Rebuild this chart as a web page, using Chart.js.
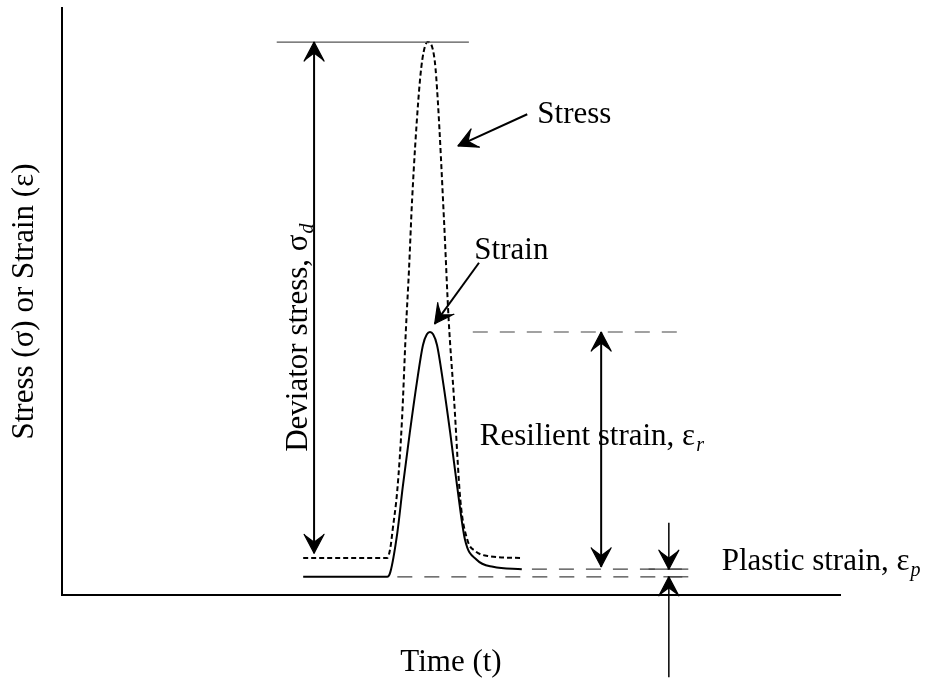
<!DOCTYPE html>
<html>
<head>
<meta charset="utf-8">
<script src="https://cdn.jsdelivr.net/npm/chart.js@4.4.1/dist/chart.umd.min.js"></script>
<style>
  body { margin: 0; background: #fff; }
</style>
</head>
<body>
<canvas id="pulseChart" width="930" height="682"></canvas>
<script>
// both axes are schematic, 0..100 arbitrary units
const stressTime  = [31.0, 41.8, 42.2, 42.5, 43.1, 43.7, 44.2, 44.6, 45.0, 45.8, 46.3, 47.0, 47.9, 48.3, 49.1, 49.7, 50.4, 51.2, 52.1, 53.1, 55.0, 58.9];
const stressValue = [6.3, 6.3, 8.0, 11.1, 17.9, 29.8, 45.1, 55.4, 67.3, 84.3, 91.1, 94.2, 91.1, 84.3, 63.9, 46.9, 33.2, 16.2, 9.4, 7.5, 6.6, 6.3];

const strainTime  = [31.0, 41.8, 42.2, 43.1, 43.8, 44.7, 45.6, 46.4, 46.9, 47.3, 47.7, 48.2, 49.0, 49.9, 50.8, 51.8, 53.3, 55.4, 59.1];
const strainValue = [3.1, 3.1, 3.9, 10.6, 18.4, 27.6, 36.1, 42.6, 44.4, 44.8, 44.4, 42.6, 36.1, 27.6, 18.4, 9.4, 6.0, 4.8, 4.4];

// reference levels taken from the curves
const stressPeak = Math.max(...stressValue);
const stressBase = stressValue[0];
const strainPeak = Math.max(...strainValue);
const strainBase = strainValue[0];
const strainTail = strainValue[strainValue.length - 1];

const serif = '"Liberation Serif", "Times New Roman", serif';

function arrowHead(ctx, tx, ty, fx, fy) {
    const a = Math.atan2(ty - fy, tx - fx);
    ctx.save();
    ctx.translate(tx, ty);
    ctx.rotate(a);
    ctx.beginPath();
    ctx.moveTo(0, 0);
    ctx.lineTo(-19, -10);
    ctx.lineTo(-17, -8);
    ctx.lineTo(-11, 0);
    ctx.lineTo(-17, 8);
    ctx.lineTo(-19, 10);
    ctx.closePath();
    ctx.fill();
    ctx.lineWidth = 1.2;
    ctx.lineJoin = 'round';
    ctx.stroke();
    ctx.restore();
}

function arrow(ctx, fx, fy, tx, ty, width, bothEnds) {
    ctx.lineWidth = width;
    ctx.beginPath();
    ctx.moveTo(fx, fy);
    ctx.lineTo(tx, ty);
    ctx.stroke();
    arrowHead(ctx, tx, ty, fx, fy);
    if (bothEnds) arrowHead(ctx, fx, fy, tx, ty);
}

function hline(ctx, x1, x2, y, dash, color) {
    ctx.save();
    ctx.strokeStyle = color;
    ctx.lineWidth = 1.2;
    ctx.setLineDash(dash);
    ctx.beginPath();
    ctx.moveTo(x1, y);
    ctx.lineTo(x2, y);
    ctx.stroke();
    ctx.restore();
}

function label(ctx, text, sub, x, y) {
    ctx.font = '31px ' + serif;
    ctx.fillText(text, x, y);
    if (sub) {
        const w = ctx.measureText(text).width;
        ctx.font = 'italic 20px ' + serif;
        ctx.fillText(sub, x + w + 1, y + 6);
    }
}

// arrows, guide lines and labels
const annotate = {
    id: 'annotate',
    afterDraw(chart) {
        const { ctx, scales: { x, y } } = chart;
        const px = v => x.getPixelForValue(v);
        const py = v => y.getPixelForValue(v);
        ctx.save();
        ctx.fillStyle = '#000';
        ctx.strokeStyle = '#000';
        ctx.textBaseline = 'alphabetic';
        ctx.textAlign = 'left';

        // peak line and deviator stress arrow
        hline(ctx, px(27.6), px(52.3), py(stressPeak), [], '#555');
        arrow(ctx, px(32.4), py(stressPeak), px(32.4), py(stressBase + 0.8), 2, true);

        // resilient / plastic guide lines
        hline(ctx, px(52.8), px(80.5), py(strainPeak), [15, 12], '#444');
        hline(ctx, px(60.4), px(80.5), py(strainTail), [15, 12], '#444');
        hline(ctx, px(43.1), px(80.5), py(strainBase), [15, 12], '#444');
        hline(ctx, px(75.4), px(80.5), py(strainTail), [], '#444');
        hline(ctx, px(77.3), px(80.5), py(strainBase), [], '#444');

        arrow(ctx, px(69.3), py(strainPeak), px(69.3), py(strainTail + 0.4), 2, true);
        arrow(ctx, px(78.0), py(12.3), px(78.0), py(strainTail), 1.5, false);
        arrow(ctx, px(78.0), py(-14.0), px(78.0), py(strainBase), 1.5, false);

        // pointers to the curves
        arrow(ctx, px(59.8), py(81.9), px(50.9), py(76.5), 2, false);
        arrow(ctx, px(53.6), py(56.6), px(47.9), py(46.2), 2, false);

        label(ctx, 'Stress', null, px(61.1), py(80.4));
        label(ctx, 'Strain', null, px(53.0), py(57.2));
        label(ctx, 'Resilient strain, ε', 'r', px(53.7), py(25.6));
        label(ctx, 'Plastic strain, ε', 'p', px(84.8), py(4.3));

        ctx.save();
        ctx.translate(px(31.5), py(24.4));
        ctx.rotate(-Math.PI / 2);
        label(ctx, 'Deviator stress, σ', 'd', 0, 0);
        ctx.restore();

        ctx.restore();
    }
};

new Chart(document.getElementById('pulseChart'), {
    type: 'line',
    data: {
        datasets: [
            {
                label: 'Stress',
                data: stressTime.map((t, i) => ({ x: t, y: stressValue[i] })),
                borderColor: '#000',
                borderWidth: 2,
                borderDash: [5, 3],
                pointRadius: 0,
                cubicInterpolationMode: 'monotone',
                fill: false,
            },
            {
                label: 'Strain',
                data: strainTime.map((t, i) => ({ x: t, y: strainValue[i] })),
                borderColor: '#000',
                borderWidth: 2,
                pointRadius: 0,
                cubicInterpolationMode: 'monotone',
                fill: false,
            },
        ],
    },
    options: {
        responsive: false,
        animation: false,
        layout: { padding: { top: 8, right: 90, left: 0, bottom: 0 } },
        plugins: {
            legend: { display: false },
            tooltip: { enabled: false },
        },
        scales: {
            x: {
                type: 'linear',
                min: 0,
                max: 100,
                grid: { display: false },
                ticks: { display: false },
                border: { color: '#000', width: 2 },
                title: {
                    display: true,
                    text: 'Time (t)',
                    color: '#000',
                    font: { family: serif, size: 31 },
                    padding: { top: 0, bottom: 1 },
                },
                afterFit: s => { s.height = 87; },
            },
            y: {
                min: 0,
                max: 100,
                grid: { display: false },
                ticks: { display: false },
                border: { color: '#000', width: 2 },
                title: {
                    display: true,
                    text: 'Stress (σ) or Strain (ε)',
                    color: '#000',
                    font: { family: serif, size: 31 },
                    padding: { top: 6, bottom: 0 },
                },
                afterFit: s => { s.width = 62; },
            },
        },
    },
    plugins: [annotate],
});
</script>
</body>
</html>
